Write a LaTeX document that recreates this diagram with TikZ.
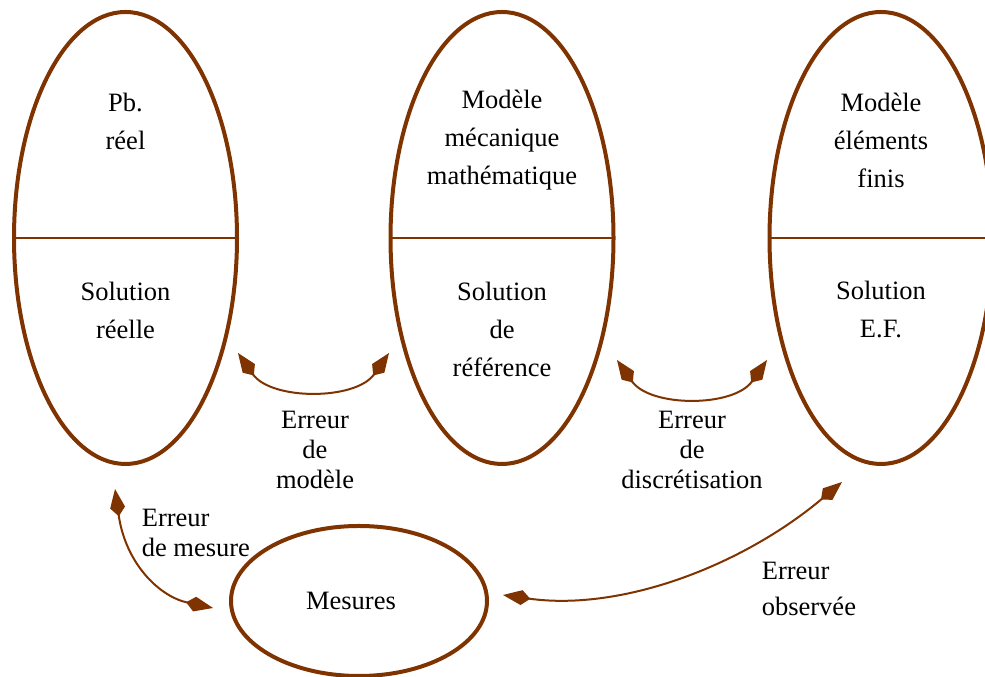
\documentclass[tikz,border=0pt]{standalone}
\usepackage{fontspec}
\setmainfont{Liberation Serif}
\usetikzlibrary{arrows.meta}
\definecolor{brun}{RGB}{127,51,0}
\tikzset{
	bloc/.style={align=center, font=\fontsize{10.6}{15.2}\selectfont},
	erreur/.style={align=center, font=\fontsize{10.6}{12}\selectfont},
	fleche/.style={brun, line width=0.8pt, {Kite[length=11pt,width=6pt,inset=3.5pt]}-{Kite[length=11pt,width=6pt,inset=3.5pt]}}
}
\begin{document}
\begin{tikzpicture}[x=0.4pt, y=0.4pt, line join=round, line cap=round]
	
	\useasboundingbox (0,0) rectangle (985,677);
	\coordinate[] (L) at (125.5,439);
	\coordinate[] (M) at (502,439);
	\coordinate[] (R) at (881,439);
	\coordinate[] (S) at (359,76);
	\def\a{111.5}
	\def\b{226}
	
	\foreach \c in {L,M,R}{
		\draw[brun, line width=1.6pt] (\c) ellipse ({\a} and {\b});
		\draw[brun, line width=0.8pt] ([xshift=-\a*0.4pt]\c) -- ([xshift=\a*0.4pt]\c);
	}
	\draw[brun, line width=1.6pt] (S) ellipse (128 and 75);
	
	\node[bloc] (pb) at (125.5,556) {Pb.\\réel};
	\node[bloc] (solr) at (125.5,367) {Solution\\réelle};
	\node[bloc] (mod) at (502,537) {Modèle\\mécanique\\mathématique};
	\node[bloc] (solref) at (502,348) {Solution\\de\\référence};
	\node[bloc] (ef) at (881,537) {Modèle\\éléments\\finis};
	\node[bloc] (solef) at (881,367) {Solution\\E.F.};
	\node[bloc] (mes) at (351,76) {Mesures};
	
	% extremites des fleches
	\coordinate (a1) at (238,324);
	\coordinate (a2) at (389,324);
	\coordinate (b1) at (617,317);
	\coordinate (b2) at (767,317);
	\coordinate (c1) at (115,188);
	\coordinate (c2) at (213,69);
	\coordinate (d1) at (503,82);
	\coordinate (d2) at (842,195);
	
	\draw[fleche] (a1)..controls+(-55:58)and+(-125:58)..(a2);
	\draw[fleche] (b1)..controls+(-55:58)and+(-125:58)..(b2);
	\draw[fleche] (c1)..controls+(-82:75)and+(168:55)..(c2);
	\draw[fleche] (d1)..controls+(-8:120)and+(-140:130)..(d2);
	
	\node[erreur] (emod) at (315,227) {Erreur\\de\\modèle};
	\node[erreur] (edis) at (692,227) {Erreur\\de\\discrétisation};
	\node[erreur, align=left, anchor=west] (emes) at (133,144) {Erreur\\de mesure};
	\node[align=left, anchor=west, font=\fontsize{10.6}{14.4}\selectfont] (eobs) at (753,88) {Erreur\\observée};
	
\end{tikzpicture}
\end{document}
